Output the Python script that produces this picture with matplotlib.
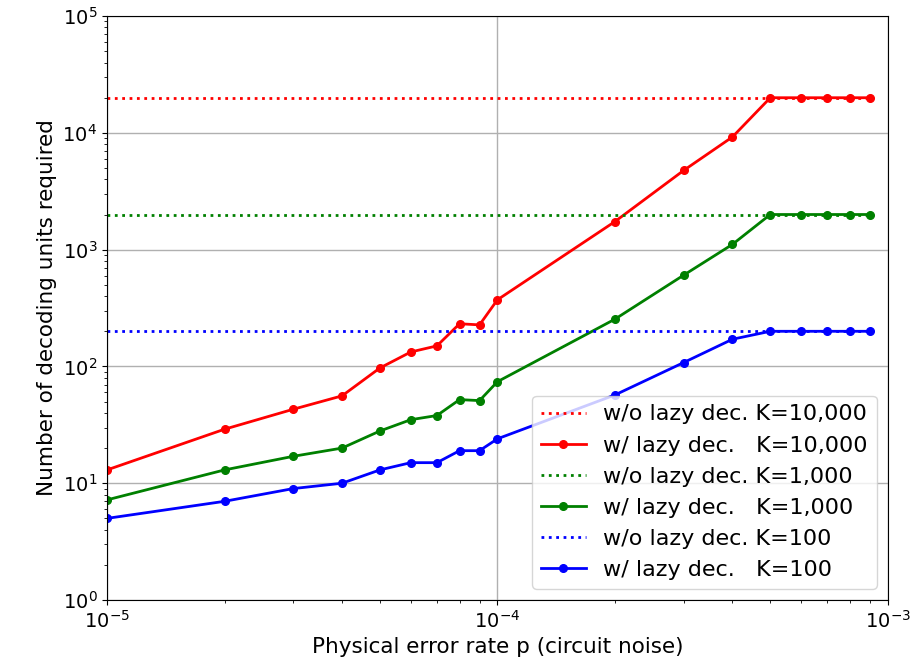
import numpy as np
import matplotlib
matplotlib.use('Agg')
import matplotlib.pyplot as plt

# physical error rates
p = [1e-5, 2e-5, 3e-5, 4e-5, 5e-5, 6e-5, 7e-5, 8e-5, 9e-5,
     1e-4, 2e-4, 3e-4, 4e-4, 5e-4, 6e-4, 7e-4, 8e-4, 9e-4]

# decoding units with lazy decoding
lazy_10000 = [13, 29, 43, 56, 97, 133, 150, 232, 227,
              372, 1740, 4770, 9230, 20000, 20000, 20000, 20000, 20000]
lazy_1000 = [7.2, 13, 17, 20, 28, 35, 38, 52, 51,
             74, 254, 605, 1110, 2000, 2000, 2000, 2000, 2000]
lazy_100 = [5, 7, 9, 10, 13, 15, 15, 19, 19,
            24, 57, 108, 171, 200, 200, 200, 200, 200]

# without lazy decoding (constant)
nolazy_10000 = 20000
nolazy_1000 = 2000
nolazy_100 = 200

fig = plt.figure(figsize=(9.2, 6.71), dpi=100)
ax = fig.add_axes([0.1163, 0.1058, 0.8487, 0.8702])

ax.plot(p, [nolazy_10000] * len(p), ':', color='red', lw=2, label='w/o lazy dec. K=10,000')
ax.plot(p, lazy_10000, '-o', color='red', lw=2, ms=5.5, label='w/ lazy dec.   K=10,000')
ax.plot(p, [nolazy_1000] * len(p), ':', color='green', lw=2, label='w/o lazy dec. K=1,000')
ax.plot(p, lazy_1000, '-o', color='green', lw=2, ms=5.5, label='w/ lazy dec.   K=1,000')
ax.plot(p, [nolazy_100] * len(p), ':', color='blue', lw=2, label='w/o lazy dec. K=100')
ax.plot(p, lazy_100, '-o', color='blue', lw=2, ms=5.5, label='w/ lazy dec.   K=100')

ax.set_xscale('log')
ax.set_yscale('log')
ax.set_xlim(1e-5, 1e-3)
ax.set_ylim(1e0, 1e5)
ax.grid(True, which='major', color='#b0b0b0', lw=1)
ax.tick_params(labelsize=14)

ax.set_xlabel('Physical error rate p (circuit noise)', fontsize=15.5)
ax.set_ylabel('Number of decoding units required', fontsize=15.5)
ax.legend(loc='lower right', fontsize=16)

fig.savefig('out.png', dpi=100)
